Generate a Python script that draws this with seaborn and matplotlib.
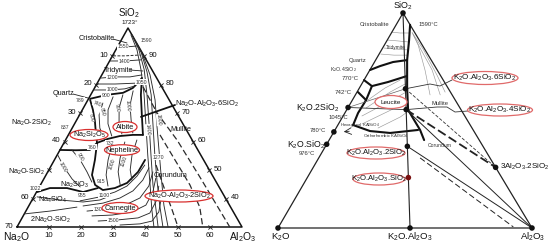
import matplotlib
matplotlib.use("Agg")
import matplotlib.pyplot as plt
from matplotlib.patches import Ellipse
import seaborn as sns

# ---- molar masses (g/mol), used to place the compounds by wt% ----
MOLAR = {"Na2O": 61.98, "K2O": 94.20, "Al2O3": 101.96, "SiO2": 60.08}

# ================= left: Na2O-Al2O3-SiO2 (wt%, SiO2 >= 30) =================
# every curve is a list of (Al2O3 wt%, SiO2 wt%)
L_QTZ_TRID = [(0.5, 75.1), (5.1, 76.5), (9.7, 77.2), (11.9, 78.9), (12.6, 80.7), (13.0, 82.4)]
L_ALB_EDGE = [(13.0, 82.4), (15.6, 76.5), (19.4, 69.4), (23.2, 62.4)]
L_ALB_NEPH = [(10.3, 59.6), (13.0, 61.0), (16.2, 62.0), (20.1, 62.4), (23.2, 62.4)]
L_QTZ_DISIL = [(0.7, 74.7), (3.3, 71.2), (6.0, 67.0), (8.2, 63.1), (10.3, 59.6)]
L_NEPH_CARN = [(10.3, 59.6), (12.6, 53.6), (14.3, 48.3), (17.0, 44.8), (20.3, 43.0),
               (23.7, 43.7), (26.6, 45.5), (28.1, 49.4), (28.2, 53.6)]
L_DISIL_META = [(0.0, 57.1), (5.0, 57.0), (9.3, 57.1), (10.3, 59.6)]
L_META_ORTHO = [(0.2, 42.3), (3.5, 43.7), (8.8, 43.7), (14.5, 42.3), (18.4, 43.7)]
L_ORTHO_LOW = [(1.0, 40.6), (8.7, 39.5), (16.2, 38.8), (21.1, 39.5), (23.5, 40.9)]
L_2NA = [(0.0, 34.6), (7.5, 35.6), (15.2, 37.0)]

L_ISOTHERMS = [
    [(0.0, 93.0), (3.3, 93.4), (6.2, 93.7)],                   # 1550
    [(0.1, 88.4), (4.8, 88.4), (9.6, 88.8)],                   # 1400
    [(0.3, 82.4), (4.4, 82.8), (9.1, 82.8), (12.5, 83.5)],     # 1200
    [(0.1, 80.3), (5.7, 80.3), (12.0, 80.6)],                  # 1100
    [(0.0, 78.2), (5.2, 78.2), (9.6, 78.6), (12.2, 79.6)],     # 1000
    # albite field
    [(5.2, 73.6), (6.1, 69.4), (8.6, 64.8), (11.6, 61.3)],
    [(7.3, 75.8), (8.0, 71.2), (10.4, 66.3), (13.7, 62.0)],
    [(10.0, 76.5), (11.1, 71.9), (13.5, 67.0), (16.5, 62.7)],
    [(12.5, 77.9), (14.0, 72.9), (16.9, 67.7), (19.7, 63.1)],
    # nepheline field
    [(15.3, 58.9), (16.7, 53.6), (18.7, 48.3), (21.2, 44.4)],
    [(18.8, 59.9), (20.1, 54.3), (21.9, 49.4), (24.8, 44.8)],
    [(22.2, 60.6), (23.3, 55.3), (25.3, 50.1), (27.6, 46.5)],
    # sodium silicate fields
    [(0.2, 55.3), (4.2, 51.1), (8.8, 46.9), (12.7, 44.1)],
    [(3.7, 57.1), (8.0, 53.6), (12.2, 49.4), (15.5, 45.8)],
    # carnegieite field
    [(15.1, 39.2), (20.6, 40.6), (24.4, 42.3), (27.1, 44.4), (28.5, 47.9), (29.0, 51.8)],
    [(16.9, 37.4), (22.6, 38.4), (27.0, 40.2), (29.8, 42.7), (31.0, 46.5), (30.8, 50.8)],
    [(19.0, 35.6), (24.9, 36.3), (29.8, 37.7), (33.2, 40.2), (33.9, 44.4), (32.7, 49.4)],
    [(21.4, 33.9), (27.5, 34.2), (33.2, 35.3), (36.3, 37.7), (36.2, 42.3), (34.7, 47.2)],
    [(24.2, 32.1), (30.2, 32.5), (36.1, 33.2), (38.9, 34.9), (38.8, 39.5), (37.0, 44.4)],
    [(31.7, 30.7), (37.7, 31.1), (41.0, 32.1), (41.5, 35.3), (39.5, 41.3)],
]
L_INVERSION = [(0.2, 90.2), (3.9, 90.2), (8.4, 90.5)]
L_BUNDLE = [
    [(2.1, 97.6), (6.6, 92.3), (11.3, 85.3), (16.6, 76.5), (22.4, 65.9), (28.2, 55.3), (34.1, 44.8), (39.0, 36.0), (42.6, 30.0)],
    [(2.5, 97.6), (7.2, 92.3), (12.3, 85.3), (17.5, 76.5), (23.4, 65.9), (29.2, 55.3), (35.0, 44.8), (40.3, 36.0), (43.9, 30.0)],
    [(2.9, 97.1), (8.2, 91.6), (13.5, 84.6), (18.8, 76.5), (24.6, 65.9), (30.4, 55.3), (35.4, 46.5), (40.6, 37.7), (45.4, 30.0)],
    [(3.6, 96.3), (9.3, 90.5), (15.0, 83.5), (20.9, 74.7), (25.8, 65.9), (30.8, 57.1), (35.8, 48.3), (41.9, 37.7), (47.0, 30.0)],
]
L_DASHED = [
    [(14.9, 79.3), (23.8, 70.1), (34.7, 60.6), (48.2, 47.6), (66.2, 30.0)],
    [(28.5, 62.4), (37.5, 53.6), (46.5, 44.8), (53.4, 37.0), (57.8, 30.0)],
    [(32.5, 51.8), (39.6, 43.0), (45.3, 36.0), (50.1, 30.0)],
]
L_BOTTOM_TICKS = [10, 20, 30, 40, 50, 60]        # Al2O3
L_LEFT_TICKS = [10, 20, 30, 40, 50, 60, 70]      # Na2O
L_LEFT_LABELS = [10, 20, 30, 40, 60, 70]
L_RIGHT_TICKS = [90, 80, 70, 60, 50, 40]         # SiO2

# ================= right: K2O-Al2O3-SiO2 (wt%) =================
R_BOUND = [
    [(5.5, 94.5), (8.6, 87.4), (12.4, 78.1), (18.8, 65.1), (24.2, 54.9), (28.9, 50.2), (33.5, 45.6), (37.4, 40.9)],
    [(0.1, 73.5), (3.1, 75.3), (7.3, 77.2), (12.4, 78.1)],
    [(0.0, 68.8), (4.5, 66.0), (9.9, 67.9), (16.0, 70.7)],
    [(4.5, 66.0), (5.4, 59.5), (5.2, 53.5), (6.0, 47.9)],
    [(6.0, 47.9), (14.0, 45.1), (22.4, 44.2), (32.7, 45.6)],
    [(0.4, 63.2), (5.4, 59.5)],
]
R_FINE = [
    [(0.0, 91.1), (3.4, 90.7), (7.0, 90.7)],
    [(0.3, 87.4), (4.5, 87.0), (9.0, 86.5)],
    [(0.6, 83.7), (5.5, 83.2), (10.5, 82.8)],
    [(0.7, 80.9), (6.1, 80.4), (11.2, 80.4)],
    [(6.1, 59.5), (10.1, 65.1), (14.2, 68.8)],
    [(7.2, 55.8), (13.0, 63.2), (17.1, 67.0)],
    [(7.4, 52.1), (15.6, 59.5), (19.3, 63.2)],
    [(9.3, 48.4), (18.6, 55.8), (21.5, 59.5)],
    [(16.5, 46.5), (22.7, 51.6), (25.0, 54.9)],
    [(8.0, 91.0), (13.3, 85.1), (21.7, 73.5), (29.4, 61.9)],
    [(8.5, 90.5), (14.0, 84.5), (24.5, 73.5), (33.4, 61.9)],
    [(9.0, 90.0), (16.4, 83.0), (27.7, 71.0), (34.7, 63.2)],
]
R_LOW_DASH = [(39.9, 32.6), (92.4, 0.5)]
R_EUTECTIC_780 = (0.0, 44.7)


def comp(alk, n_alk, n_al, n_si):
    a, b, c = n_alk * MOLAR[alk], n_al * MOLAR["Al2O3"], n_si * MOLAR["SiO2"]
    tot = a + b + c
    return 100 * b / tot, 100 * c / tot


ALBITE = comp("Na2O", 1, 1, 6)
KAS6 = comp("K2O", 1, 1, 6)
KAS4 = comp("K2O", 1, 1, 4)
KAS2 = comp("K2O", 1, 1, 2)
KAS1 = comp("K2O", 1, 1, 1)
KA = comp("K2O", 1, 1, 0)
K2S2 = comp("K2O", 1, 0, 2)
K2S1 = comp("K2O", 1, 0, 1)
MULLITE = comp("K2O", 0, 3, 2)

# frames in figure pixels (layout only)
LEFT = {"L": (17, 227), "R": (242, 227), "T": (128, 28), "base": 30, "span": 70}
RIGHT = {"L": (278, 228), "R": (532, 228), "T": (403, 13), "base": 0, "span": 100}


def px(fr, al, si):
    s = al / fr["span"]
    t = (si - fr["base"]) / fr["span"]
    (lx, ly), (rx, ry), (tx, ty) = fr["L"], fr["R"], fr["T"]
    return lx + s * (rx - lx) + t * (tx - lx), ly + s * (ry - ly) + t * (ty - ly)


def curve(ax, fr, pts, lw=0.6, color="#2b2b2b", ls="-", z=2):
    xy = [px(fr, a, s) for a, s in pts]
    sns.lineplot(x=[p[0] for p in xy], y=[p[1] for p in xy], sort=False, estimator=None,
                 ax=ax, color=color, lw=lw, linestyle=ls, zorder=z)


def label(ax, txt, x, y, size, color="#111", rot=0, bg=False, z=6):
    kw = {}
    if bg:
        kw["bbox"] = dict(fc="white", ec="none", pad=0.15)
    ax.text(x, y, txt, fontsize=size, color=color, ha="center", va="center",
            rotation=rot, zorder=z, **kw)


def ringed(ax, txt, x, y, w, h, size, ec, color="#111"):
    ax.add_patch(Ellipse((x, y), w, h, fc="white", ec=ec, lw=0.9, zorder=5))
    label(ax, txt, x, y, size, color=color)


sns.set_theme(style="white")
plt.rcParams["font.family"] = ["Liberation Sans", "DejaVu Sans"]
plt.rcParams["mathtext.fontset"] = "custom"
plt.rcParams["mathtext.rm"] = "Liberation Sans"
plt.rcParams["mathtext.it"] = "Liberation Sans:italic"
plt.rcParams["mathtext.bf"] = "Liberation Sans:bold"

fig = plt.figure(figsize=(5.5, 2.45), dpi=100)
ax = fig.add_axes([0, 0, 1, 1])
ax.set_xlim(0, 550)
ax.set_ylim(245, 0)
ax.axis("off")

# ---------------- left diagram ----------------
curve(ax, LEFT, [(0, 30), (70, 30), (0, 100), (0, 30)], lw=1.1, color="#111")
for pts in [L_QTZ_TRID, L_ALB_EDGE, L_ALB_NEPH, L_QTZ_DISIL, L_NEPH_CARN,
            L_DISIL_META, L_META_ORTHO]:
    curve(ax, LEFT, pts, lw=1.3, color="#111")
for pts in [L_ORTHO_LOW, L_2NA] + L_ISOTHERMS + L_BUNDLE:
    curve(ax, LEFT, pts, lw=0.65)
curve(ax, LEFT, L_INVERSION, lw=0.7, ls=(0, (3, 1.5)))
for pts in L_DASHED:
    curve(ax, LEFT, pts, lw=0.9, ls=(0, (5, 2.5)))
ax.plot([px(LEFT, *ALBITE)[0], 175], [px(LEFT, *ALBITE)[1], 105], color="#111", lw=1.3, zorder=3)

tick_pts = [px(LEFT, a, 30) for a in L_BOTTOM_TICKS] + \
           [px(LEFT, 0, 100 - n) for n in L_LEFT_TICKS[:-1]] + \
           [px(LEFT, 100 - s, s) for s in L_RIGHT_TICKS]
sns.scatterplot(x=[p[0] for p in tick_pts], y=[p[1] for p in tick_pts], marker="x",
                s=9, color="#222", linewidth=0.6, ax=ax, zorder=4)
for a in L_BOTTOM_TICKS:
    x, y = px(LEFT, a, 30)
    label(ax, str(a), x, y + 8, 5.6)
for n in L_LEFT_LABELS:
    x, y = px(LEFT, 0, 100 - n)
    label(ax, str(n), x - 8, y - 1, 5.6)
for s in L_RIGHT_TICKS:
    x, y = px(LEFT, 100 - s, s)
    label(ax, str(s), x + 9, y - 1, 5.6)

for txt, x, y, size in [
    ("SiO$_2$", 129, 13, 7), ("1723°", 130, 23, 4.5), ("Cristobalite", 97, 38, 5.2),
    ("Tridymite", 119, 70, 5.2), ("Quartz", 63, 93, 5.2),
    ("Na$_2$O-Al$_2$O$_3$-6SiO$_2$", 207, 104, 5.4), ("Mullite", 181, 129, 5.2),
    ("Na$_2$O-2SiO$_2$", 32, 123, 5.2), ("Na$_2$O-SiO$_2$", 27, 172, 5.2),
    ("Na$_2$SiO$_3$", 75, 185, 5.2), ("Na$_4$SiO$_4$", 53, 200, 5.2),
    ("Corundum", 171, 175, 5.2), ("2Na$_2$O-SiO$_2$", 51, 220, 5.2),
    ("Na$_2$O", 16, 237, 7.4), ("Al$_2$O$_3$", 243, 237, 7.4)]:
    label(ax, txt, x, y, size)
for x0, y0, x1, y1 in [(113, 39, 127, 43), (73, 94, 88, 98), (130, 70, 143, 71)]:
    ax.plot([x0, x1], [y0, y1], color="#222", lw=0.6)

for txt, x, y, rot in [
    ("1590", 146, 41, 0), ("1550", 123, 47, 0), ("1400", 124, 61, 0), ("1200", 112, 77, 0),
    ("1000", 112, 89, 0), ("900", 106, 95, 0), ("1050", 141, 82, 0), ("789", 80, 100, 0),
    ("740", 97, 104, -20), ("800", 91, 118, -75), ("850", 102, 112, -75), ("900", 117, 108, -80),
    ("1000", 128, 106, -85), ("837", 65, 127, 0), ("760", 92, 147, 0), ("732", 110, 143, 0),
    ("1000", 63, 167, -60), ("900", 80, 157, -60), ("1022", 35, 188, 0), ("915", 101, 181, 0),
    ("955", 82, 195, 0), ("1100", 104, 195, 0), ("1300", 99, 209, 0), ("1500", 113, 220, 0),
    ("1000", 112, 164, 70), ("1100", 124, 161, 70), ("1270", 158, 157, 0),
    ("1400", 148, 130, -85), ("1600", 159, 120, -85)]:
    label(ax, txt, x, y, 3.7, color="#333", rot=rot, bg=True, z=4)

red = "#d8302f"
for txt, x, y, w, h in [
    ("Na$_2$Si$_2$O$_5$", 89, 135, 38, 11), ("Albite", 125, 127, 24, 11),
    ("Nepheline", 122, 150, 35, 10.5), ("Carnegite", 120, 208, 36, 11),
    ("Na$_2$O-Al$_2$O$_3$-2SiO$_2$", 179, 196, 68, 12)]:
    ringed(ax, txt, x, y, w, h, 5.3, red)

# ---------------- right diagram ----------------
curve(ax, RIGHT, [(0, 0), (100, 0), (0, 100), (0, 0)], lw=0.9, color="#222")
for pts in R_FINE:
    curve(ax, RIGHT, pts, lw=0.45, color="#9a9a9a", z=1)
for pts in R_BOUND:
    curve(ax, RIGHT, pts, lw=1.5, color="#111")
curve(ax, RIGHT, [KA, (0, 100)], lw=0.8, color="#222")
curve(ax, RIGHT, [K2S2, KAS4], lw=0.6, color="#333")
curve(ax, RIGHT, [K2S2, KAS6], lw=0.5, color="#666")
curve(ax, RIGHT, [KAS4, (100, 0)], lw=0.7, color="#222")
curve(ax, RIGHT, [KAS2, (100, 0)], lw=0.7, color="#222")
curve(ax, RIGHT, R_LOW_DASH, lw=0.7, color="#222", ls=(0, (6, 3)))
curve(ax, RIGHT, [KAS6, MULLITE], lw=0.6, color="#333", ls=(0, (4, 2)))
curve(ax, RIGHT, [KAS4, MULLITE], lw=1.3, color="#222", ls=(0, (5, 2)))

r_pts = [px(RIGHT, *p) for p in [(0, 100), (0, 0), KA, (100, 0), KAS6, KAS4, KAS2,
                                  K2S2, K2S1, R_EUTECTIC_780, MULLITE]]
sns.scatterplot(x=[p[0] for p in r_pts], y=[p[1] for p in r_pts], s=16, color="#111",
                edgecolor="none", ax=ax, zorder=7)
kx, ky = px(RIGHT, *KAS1)
sns.scatterplot(x=[kx], y=[ky], s=16, color="#7a1010", edgecolor="none", ax=ax, zorder=7)

for path, target in [([(452, 80), (440, 86), (430, 84)], KAS6),
                     ([(468, 111), (455, 112), (447, 107), (437, 107)], KAS4)]:
    tx, ty = px(RIGHT, *target)
    ax.plot([p[0] for p in path] + [tx], [p[1] for p in path] + [ty], color="#333", lw=0.6, zorder=3)
ax.annotate("", xy=(341, 132), xytext=(352, 131),
            arrowprops=dict(arrowstyle="->", lw=0.6, color="#222"))

for txt, x, y, size in [
    ("SiO$_2$", 403, 6, 6.4), ("K$_2$O.2SiO$_2$", 318, 108, 6.3),
    ("K$_2$O.SiO$_2$", 306, 145, 6.3), ("3Al$_2$O$_3$.2SiO$_2$", 525, 167, 5.8),
    ("K$_2$O", 281, 237, 6.8), ("K$_2$O.Al$_2$O$_3$", 410, 237, 6.8),
    ("Al$_2$O$_3$", 533, 237, 6.8)]:
    label(ax, txt, x, y, size)
for txt, x, y, size in [
    ("Cristobalite", 375, 25, 4.2), ("1590°C", 428, 24, 4.2), ("Quartz", 358, 60, 4.2),
    ("K$_2$O.4SiO$_2$", 343, 70, 3.8), ("770°C", 350, 78, 4.4), ("742°C", 343, 92, 4.4),
    ("1045°C", 338, 117, 4.2), ("780°C", 318, 130, 4.2), ("976°C", 307, 153, 4.2),
    ("Mullite", 440, 103, 4.2), ("Tridymite", 396, 47, 3.4),
    ("Hexagonal KAlSiO$_4$", 360, 125, 3.2), ("Orthorhombic KAlSiO$_4$", 386, 136, 3.2),
    ("Corundum", 440, 145, 3.6)]:
    label(ax, txt, x, y, size, color="#333")

pink = "#e06a6a"
for txt, x, y, w, h, size in [
    ("K$_2$O.Al$_2$O$_3$.6SiO$_2$", 485, 78, 66, 13, 5.9),
    ("Leucite", 391, 102, 32, 13, 4.6),
    ("K$_2$O.Al$_2$O$_3$.4SiO$_2$", 500, 110, 65, 12, 5.9),
    ("K$_2$O.Al$_2$O$_3$.2SiO$_2$", 376, 153, 58, 12, 5.6),
    ("K$_2$O.Al$_2$O$_3$.SiO$_2$", 379, 179, 52, 12, 5.6)]:
    ringed(ax, txt, x, y, w, h, size, pink)

fig.savefig("out.png", dpi=100, facecolor="white")
